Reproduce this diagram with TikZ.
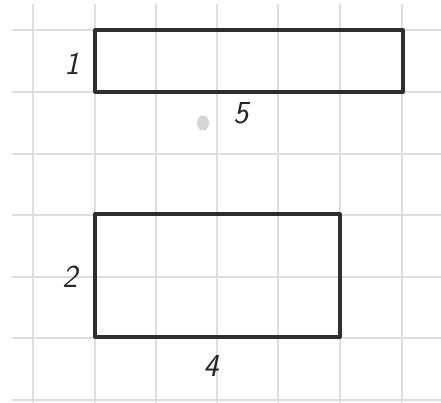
\documentclass[tikz,border=0pt]{standalone}
\begin{document}
\begin{tikzpicture}[x=1pt,y=-1pt,
  gridline/.style={draw=black!13,line width=1.5pt},
  outlinebox/.style={draw=black!82,line width=3.2pt,line join=round},
  digit/.style={font=\fontsize{32}{32}\selectfont\sffamily\slshape,text=black!85,inner sep=0pt}]
\useasboundingbox (0,0) rectangle (441,403);
\fill[white] (0,0) rectangle (441,403);
% grid
\foreach \x in {33,95,156,217,278,340,402} \draw[gridline] (\x,4) -- (\x,403);
\foreach \y in {30,92,154,215,277,338,400} \draw[gridline] (12,\y) -- (441,\y);
% smudge
\fill[black!16] (203,123) ellipse (6 and 7.5);
% rectangles
\draw[outlinebox] (95,30) rectangle (403,92);
\draw[outlinebox] (95,214) rectangle (340,337);
% labels
\node[digit] (n1) at (72,64) {1};
\node[digit] (n5) at (241,113) {5};
\node[digit] (n2) at (70,277) {2};
\node[digit] (n4) at (211,366) {4};
\end{tikzpicture}
\end{document}
